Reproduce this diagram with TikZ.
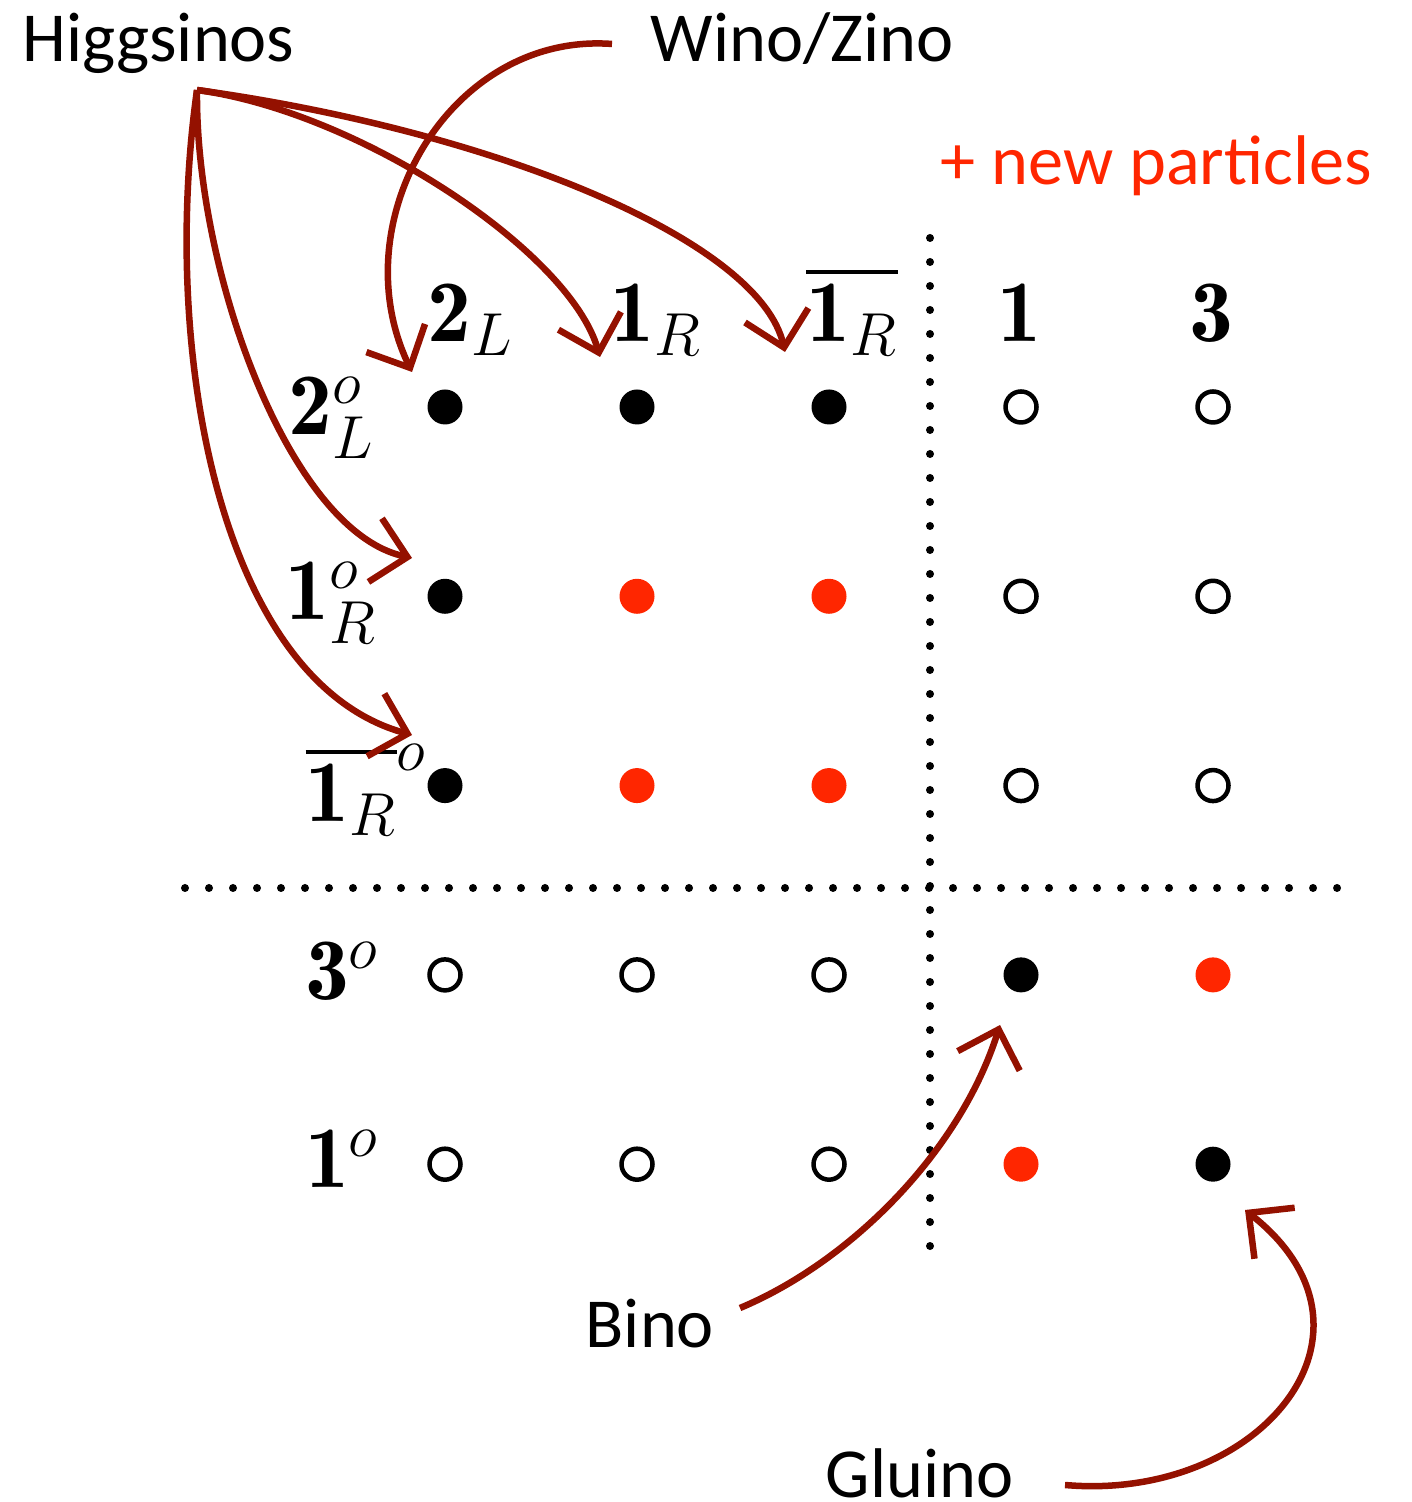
\documentclass[tikz,border=0pt]{standalone}
\usepackage{fontspec}
\newfontfamily\labelfont{Carlito}
\definecolor{DotRed}{RGB}{255,38,0}
\definecolor{ArrowRed}{RGB}{148,17,0}
\usepackage{tikz}
\usetikzlibrary{arrows.meta, calc}
\usepackage{amsmath}

\begin{document}
\begin{tikzpicture}[
    lbl/.style={font=\labelfont\fontsize{20}{24}\selectfont, inner sep=0pt},
    rep/.style={font=\fontsize{25}{30}\selectfont, inner sep=0pt},
    dk/.style={circle, fill=black, inner sep=0pt, minimum size=0.35cm},
    rd/.style={circle, fill=DotRed, inner sep=0pt, minimum size=0.35cm},
    op/.style={circle, draw=black, line width=0.045cm, inner sep=0pt, minimum size=0.31cm},
    guide/.style={ArrowRed, line width=0.065cm, line join=miter, -{Straight Barb[length=3.3mm, width=6.5mm]}},
    sep/.style={line width=0.08cm, line cap=round, dash pattern=on 0pt off 0.24cm}
  ]
  \useasboundingbox (0,0) rectangle (14.11,15.02);

  % dot table
  \foreach \states [count=\r] in {{dk,dk,dk,op,op},{dk,rd,rd,op,op},{dk,rd,rd,op,op},
                                   {op,op,op,dk,rd},{op,op,op,rd,dk}}
    \foreach \s [count=\c] in \states
      \node[\s] (d\r\c) at ({4.45+1.92*(\c-1)},{10.95-1.893*(\r-1)}) {};

  \draw[sep] (9.30,12.64) -- (9.30,2.52);
  \draw[sep] (1.85,6.14) -- (13.45,6.14);

  % column and row labels
  \node[rep, anchor=base] (c1) at (4.71,11.60) {$\mathbf{2}_L$};
  \node[rep, anchor=base] (c2) at (6.56,11.60) {$\mathbf{1}_R$};
  \node[rep, anchor=base] (c3) at (8.52,11.60) {$\overline{\mathbf{1}_R}$};
  \node[rep, anchor=base] (c4) at (10.19,11.60) {$\mathbf{1}$};
  \node[rep, anchor=base] (c5) at (12.11,11.60) {$\mathbf{3}$};

  \node[rep, anchor=base east] (r1) at (3.75,10.67) {$\mathbf{2}^o_L$};
  \node[rep, anchor=base east] (r2) at (3.78,8.82) {$\mathbf{1}^o_R$};
  \node[rep, anchor=base east] (r3) at (4.28,6.80) {$\overline{\mathbf{1}_R}^o$};
  \node[rep, anchor=base east] (r4) at (3.80,5.02) {$\mathbf{3}^o$};
  \node[rep, anchor=base east] (r5) at (3.80,3.14) {$\mathbf{1}^o$};

  % names
  \node[lbl, anchor=base west] (higgs) at (0.22,14.40) {Higgsinos};
  \node[lbl, anchor=base west] (wino) at (6.50,14.40) {Wino/Zino};
  \node[lbl, anchor=base west, text=DotRed] (newp) at (9.40,13.17) {+ new particles};
  \node[lbl, anchor=base west] (bino) at (5.85,1.54) {Bino};
  \node[lbl, anchor=base west] (gluino) at (8.25,0.05) {Gluino};

  % arrows
  \coordinate (hsrc) at (1.97,14.12);
  \coordinate (wsrc) at (6.12,14.58);
  \coordinate (bsrc) at (7.40,1.94);
  \coordinate (gsrc) at (10.65,0.17);
  \coordinate (t2L) at (4.12,11.30);
  \coordinate (t1R) at (6.00,11.45);
  \coordinate (t1Rb) at (7.85,11.50);
  \coordinate (t1Ro) at (4.12,9.44);
  \coordinate (t1Rbo) at (4.12,7.67);
  \coordinate (tbino) at (10.00,4.77);
  \coordinate (tgluino) at (12.45,2.92);

  \draw[guide] (hsrc) .. controls (5.0,13.7) and (7.6,12.6) .. (t1Rb);
  \draw[guide] (hsrc) .. controls (3.6,13.9) and (5.7,12.5) .. (t1R);
  \draw[guide] (hsrc) .. controls (1.95,12.3) and (2.9,9.7) .. (t1Ro);
  \draw[guide] (hsrc) .. controls (1.6,11.5) and (2.2,8.2) .. (t1Rbo);
  \draw[guide] (wsrc) .. controls (4.5,14.7) and (3.4,12.8) .. (t2L);
  \draw[guide] (bsrc) .. controls (8.5,2.4) and (9.6,3.5) .. (tbino);
  \draw[guide] (gsrc) .. controls (12.6,0.0) and (14.0,1.7) .. (tgluino);
\end{tikzpicture}
\end{document}
